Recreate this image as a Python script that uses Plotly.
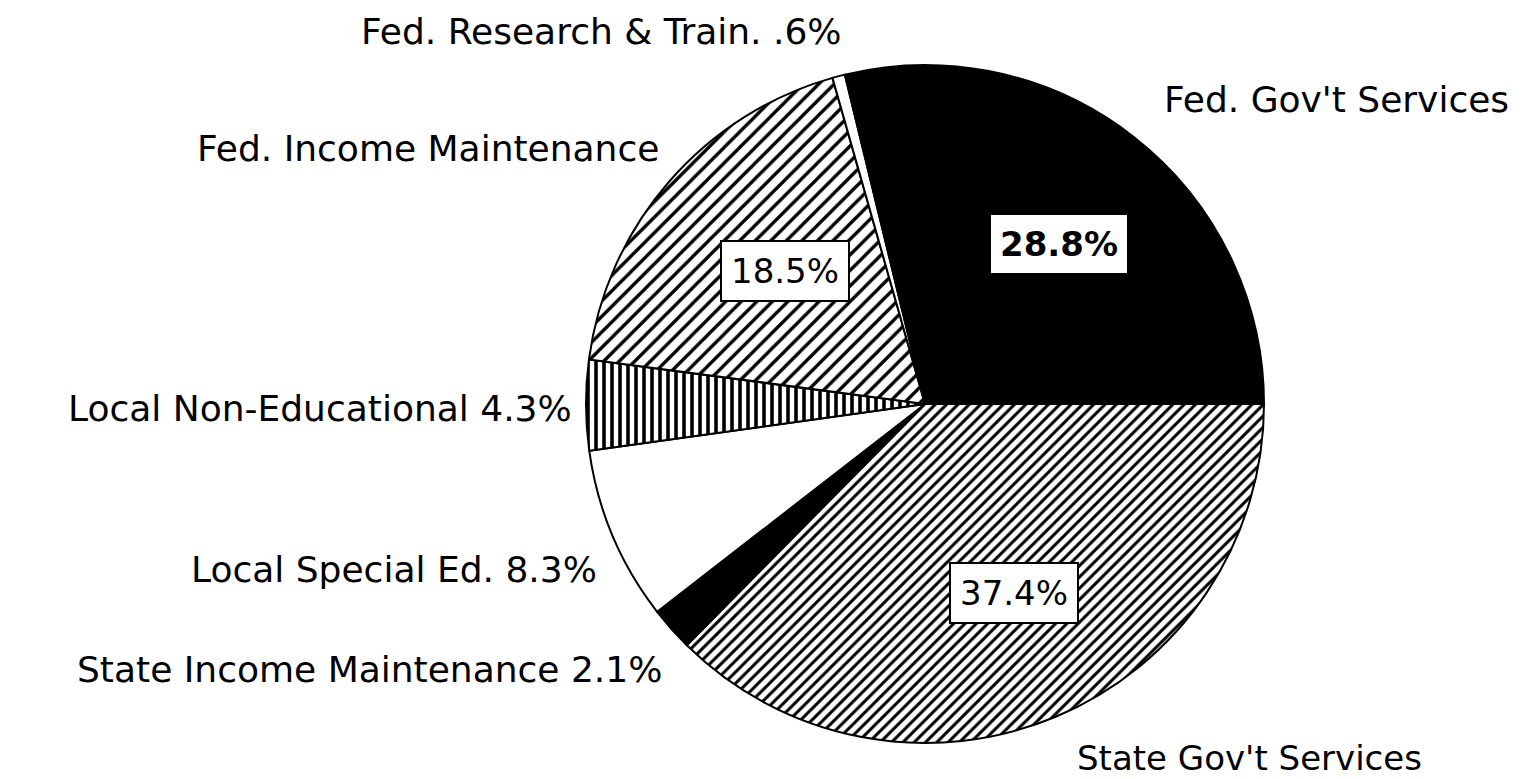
import plotly.graph_objects as go

# slices, clockwise from 3 o'clock
categories = [
    "State Gov't Services",
    "State Income Maintenance",
    "Local Special Ed.",
    "Local Non-Educational",
    "Fed. Income Maintenance",
    "Fed. Research & Train.",
    "Fed. Gov't Services",
]
shares = [37.4, 2.1, 8.3, 4.3, 18.5, 0.6, 28.8]

outside_labels = [
    "State Gov't Services",
    "State Income Maintenance 2.1%",
    "Local Special Ed. 8.3%",
    "Local Non-Educational 4.3%",
    "Fed. Income Maintenance",
    "Fed. Research & Train. .6%",
    "Fed. Gov't Services",
]
inside_labels = ["37.4%", "", "", "", "18.5%", "", "28.8%"]

W, H = 1528, 779

fills = ["white", "black", "white", "white", "white", "white", "black"]
shapes = ["/", "", "", "|", "/", "", ""]
sizes = [8, 8, 8, 8, 11, 8, 8]
solid = [0.38, 0.3, 0.3, 0.45, 0.3, 0.3, 0.3]

cx, cy, r = 917, 396, 339

fig = go.Figure()

fig.add_trace(
    go.Pie(
        labels=categories,
        values=shares,
        sort=False,
        direction="clockwise",
        rotation=90,
        textinfo="none",
        hoverinfo="label+percent",
        showlegend=False,
        marker=dict(
            colors=fills,
            line=dict(color="black", width=2),
            pattern=dict(
                shape=shapes,
                fgcolor="black",
                bgcolor=fills,
                size=sizes,
                solidity=solid,
            ),
        ),
        domain=dict(
            x=[(cx - r) / W, (cx + r) / W],
            y=[(H - cy - r) / H, (H - cy + r) / H],
        ),
    )
)

# label placement (pixels, from the top-left of the page)
out_pos = [
    (1068, 750, "left"),
    (655, 661, "right"),
    (590, 561, "right"),
    (565, 400, "right"),
    (652, 140, "right"),
    (835, 24, "right"),
    (1155, 91, "left"),
]
out_size = [34, 36, 36, 36, 36, 36, 36]
in_pos = [(1006, 585), None, None, None, (777, 263), None, (1051, 236)]
in_bold = [False, False, False, False, False, False, True]

font_name = "DejaVu Sans"

for txt, (px, py, side), fs in zip(outside_labels, out_pos, out_size):
    fig.add_annotation(
        x=px / W, y=1 - py / H, xref="paper", yref="paper",
        text=txt, showarrow=False,
        xanchor=side, yanchor="middle",
        borderpad=0,
        font=dict(family=font_name, size=fs, color="black"),
    )

for txt, pos, b in zip(inside_labels, in_pos, in_bold):
    if pos is None:
        continue
    fig.add_annotation(
        x=pos[0] / W, y=1 - pos[1] / H, xref="paper", yref="paper",
        text=txt, showarrow=False,
        xanchor="center", yanchor="middle",
        bgcolor="white", bordercolor="black", borderwidth=2, borderpad=9,
        font=dict(family=font_name, size=34, color="black",
                  weight="bold" if b else "normal"),
    )

fig.update_layout(
    width=W,
    height=H,
    margin=dict(l=0, r=0, t=0, b=0),
    paper_bgcolor="white",
    plot_bgcolor="white",
)

fig.write_html("out.html")
